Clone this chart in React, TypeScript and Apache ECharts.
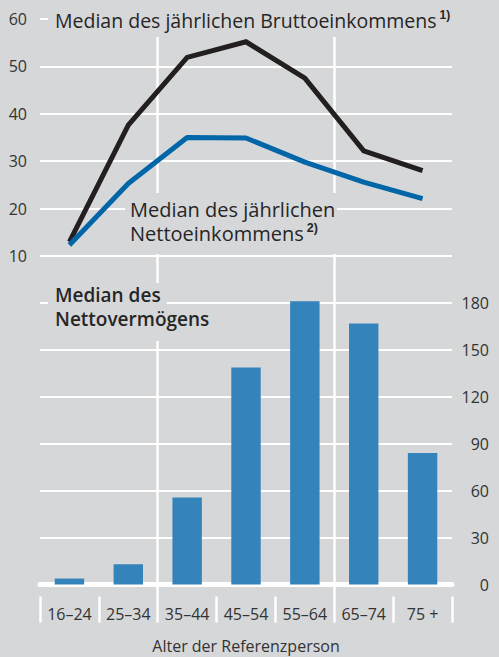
import React, { useEffect, useRef } from "react";
import * as echarts from "echarts";

const categories = ["16–24", "25–34", "35–44", "45–54", "55–64", "65–74", "75 +"];
const grossIncome = [13.0, 37.6, 51.9, 55.2, 47.5, 32.2, 28.0];
const netIncome = [12.3, 25.3, 35.0, 34.9, 29.8, 25.6, 22.1];
const netWealth = [3.8, 13.0, 55.5, 138.5, 180.8, 166.6, 84.0];
const incomeAxis = { min: 10, max: 60, interval: 10 };
const wealthAxis = { min: 0, max: 180, interval: 30 };
const dividerBounds = [0, 1, 2, 3, 4, 5, 6, 7];
const dividerAt = [2, 5];

const titleGross = "Median des jährlichen Bruttoeinkommens";
const titleNet = ["Median des jährlichen", "Nettoeinkommens"];
const titleWealth = ["Median des", "Nettovermögens"];
const axisName = "Alter der Referenzperson";

const BG = "#d6d7d9";
const TXT = "#262626";
const LBL = "#333333";
const FONT = "'Open Sans', 'Noto Sans', sans-serif";

export default function App() {
  const ref = useRef<HTMLDivElement>(null);
  useEffect(() => {
    document.body.style.margin = "0";
    document.body.style.background = BG;
    const chart = echarts.init(ref.current!, undefined, { renderer: "svg" });
    const L = 40, R = 47;
    const option: any = {
      animation: false,
      backgroundColor: BG,
      textStyle: { fontFamily: FONT },
      grid: [
        { left: L, right: R, top: 19, height: 237 },
        { left: L, right: R, top: 302.5, height: 282 },
        { left: L, right: R, top: 37, height: 560 },
      ],
      xAxis: [
        { gridIndex: 0, type: "category", data: categories, boundaryGap: true, show: false },
        {
          gridIndex: 1, type: "category", data: categories, boundaryGap: true,
          axisLine: { show: true, lineStyle: { color: "#fff", width: 5 } },
          axisTick: { show: false }, axisLabel: { show: false }, splitLine: { show: false },
        },
        {
          gridIndex: 1, type: "category", data: categories, boundaryGap: true, position: "bottom", offset: 12,
          axisLine: { show: false },
          axisTick: { show: true, length: 26, lineStyle: { color: "#fff", width: 2.5 } },
          axisLabel: { show: true, color: LBL, fontSize: 16, margin: 9, fontFamily: FONT },
          name: axisName, nameLocation: "middle", nameGap: 41,
          nameTextStyle: { color: LBL, fontSize: 16, fontFamily: FONT },
        },
        {
          gridIndex: 2, type: "value", min: dividerBounds[0], max: dividerBounds[dividerBounds.length - 1], interval: 1,
          axisLine: { show: false }, axisTick: { show: false }, axisLabel: { show: false },
          splitLine: {
            show: true,
            lineStyle: {
              width: 2.5,
              color: dividerBounds.map((b) => (dividerAt.includes(b) ? "#ffffff" : "rgba(0,0,0,0)")),
            },
          },
        },
      ],
      yAxis: [
        {
          gridIndex: 0, type: "value", ...incomeAxis, position: "left",
          axisLine: { show: false }, axisTick: { show: false },
          axisLabel: { color: LBL, fontSize: 16, margin: 13, fontFamily: FONT },
          splitLine: { lineStyle: { color: "#fff", width: 2 } },
        },
        {
          gridIndex: 1, type: "value", ...wealthAxis, position: "right",
          axisLine: { show: false }, axisTick: { show: false },
          axisLabel: { color: LBL, fontSize: 16, margin: 37, align: "right", fontFamily: FONT },
          splitLine: { lineStyle: { color: "#fff", width: 2 } },
        },
        { gridIndex: 2, type: "value", min: 0, max: 1, show: false },
      ],
      series: [
        {
          type: "bar", xAxisIndex: 1, yAxisIndex: 1, data: netWealth, barWidth: "50%",
          itemStyle: { color: "#3483bb" }, clip: false, z: 3,
        },
        {
          type: "line", xAxisIndex: 0, yAxisIndex: 0, data: grossIncome, symbol: "none",
          lineStyle: { color: "#231f20", width: 5, join: "miter" }, z: 4,
        },
        {
          type: "line", xAxisIndex: 0, yAxisIndex: 0, data: netIncome, symbol: "none",
          lineStyle: { color: "#0066a8", width: 5 }, z: 5,
        },
      ],
      graphic: [
        {
          type: "text", x: 48, y: 0, z: 100,
          style: {
            text: titleGross + "{s|1)}",
            fontFamily: FONT, fontSize: 19.5, fill: TXT, lineHeight: 23,
            backgroundColor: BG, padding: [9, 4, 5, 7],
            rich: { s: { fontSize: 12, fontWeight: 600, fill: TXT, color: TXT, verticalAlign: "top", lineHeight: 14, padding: [0, 0, 0, 3] } },
          },
        },
        { type: "rect", z: 99, shape: { x: 125, y: 193, width: 212, height: 61 }, style: { fill: BG } },
        {
          type: "text", x: 130, y: 197, z: 100,
          style: { text: titleNet[0], fontFamily: FONT, fontSize: 20, fill: TXT, lineHeight: 24 },
        },
        {
          type: "text", x: 130, y: 221, z: 100,
          style: {
            text: titleNet[1] + "{s|2)}",
            fontFamily: FONT, fontSize: 20, fill: TXT, lineHeight: 24,
            rich: { s: { fontSize: 12.5, fontWeight: 600, fill: TXT, color: TXT, verticalAlign: "top", lineHeight: 14, padding: [0, 0, 0, 3] } },
          },
        },
        {
          type: "text", x: 48, y: 283, z: 100,
          style: {
            text: titleWealth[0], fontFamily: FONT, fontSize: 19, fontWeight: 600, fill: TXT, lineHeight: 24,
            backgroundColor: BG, padding: [0, 6, 0, 7],
          },
        },
        {
          type: "text", x: 48, y: 307, z: 100,
          style: {
            text: titleWealth[1], fontFamily: FONT, fontSize: 19, fontWeight: 600, fill: TXT, lineHeight: 24,
            backgroundColor: BG, padding: [0, 6, 10, 7],
          },
        },
      ],
    };
    chart.setOption(option);
    return () => chart.dispose();
  }, []);
  return <div ref={ref} style={{ width: 499, height: 657 }} />;
}
